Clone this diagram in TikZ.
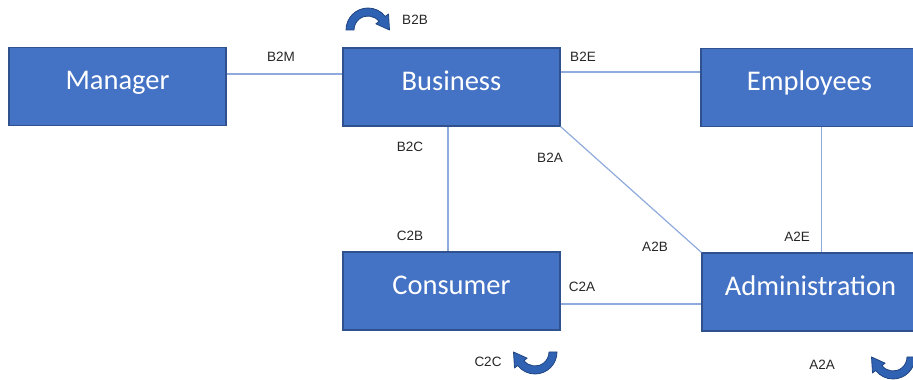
\documentclass[tikz,border=0pt]{standalone}
\usepackage{fontspec}
\usepackage{tikz}
\usepackage{xcolor}
\newfontfamily\boxfont{Carlito}
\newfontfamily\labfont{Liberation Sans}

\begin{document}
\begin{tikzpicture}[x=1pt,y=1pt]
% Define colours
\definecolor{boxblue}{RGB}{68,114,196}
\definecolor{boxedge}{RGB}{47,82,143}
\definecolor{linkblue}{RGB}{143,170,220}
\definecolor{loopfill}{RGB}{47,98,178}
\definecolor{loopedge}{RGB}{32,68,130}
\tikzset{
  role/.style={draw=boxedge,line width=1.2pt,fill=boxblue,minimum width=217pt,minimum height=78pt,
    inner sep=0pt,text height=18pt,text depth=11pt,text=white,font=\boxfont\fontsize{28.5}{31}\selectfont},
  link/.style={draw=linkblue,line width=1.2pt},
  tag/.style={font=\labfont\fontsize{13.5}{15}\selectfont,text=black!85,inner sep=0pt},
  loop/.style={fill=loopfill,draw=loopedge,line width=0.8pt,line join=round}
}
\useasboundingbox (0,0) rectangle (913,380);

% Draw role boxes
\node[role] (manager) at (117.5,293.5) {Manager};
\node[role] (business) at (451.5,293) {Business};
\node[role] (employees) at (809.5,292.5) {Employees};
\node[role] (consumer) at (451.5,89) {Consumer};
\node[role] (admin) at (810.5,88) {Administration};

% Draw links
\draw[link] ([yshift=12.5pt]manager.east) -- ([yshift=13pt]business.west);
\draw[link] ([yshift=15pt]business.east) -- ([yshift=15.5pt]employees.west);
\draw[link] ([xshift=-3.5pt]business.south) -- ([xshift=-3.5pt]consumer.north);
\draw[link] (business.south east) -- (admin.north west);
\draw[link] ([xshift=12pt]employees.south) -- ([xshift=11pt]admin.north);
\draw[link] ([yshift=-13pt]consumer.east) -- ([yshift=-12pt]admin.west);

% Add link labels
\node[tag] (b2m) at (281,323) {B2M};
\node[tag] (b2e) at (583,323) {B2E};
\node[tag] (b2c) at (410,233) {B2C};
\node[tag] (b2a) at (550,222) {B2A};
\node[tag] (c2b) at (410,144) {C2B};
\node[tag] (a2b) at (655,133) {A2B};
\node[tag] (a2e) at (797,143) {A2E};
\node[tag] (c2a) at (582,93) {C2A};

% Add self loops
\node[tag] (b2b) at (415,360) {B2B};
\begin{scope}[shift={(368,350)}]
\draw[loop] (180:22pt) arc[start angle=180,end angle=38,radius=22pt] -- (38:26pt)
  -- (21.5pt,0pt) -- (38:10pt) -- (38:14pt) arc[start angle=38,end angle=180,radius=14pt] -- cycle;
\end{scope}
\node[tag] (c2c) at (488,18) {C2C};
\begin{scope}[shift={(535,28)},rotate=180]
\draw[loop] (180:22pt) arc[start angle=180,end angle=38,radius=22pt] -- (38:26pt)
  -- (21.5pt,0pt) -- (38:10pt) -- (38:14pt) arc[start angle=38,end angle=180,radius=14pt] -- cycle;
\end{scope}
\node[tag] (a2a) at (822,15) {A2A};
\begin{scope}[shift={(893,23)},rotate=180]
\draw[loop] (180:22pt) arc[start angle=180,end angle=38,radius=22pt] -- (38:26pt)
  -- (21.5pt,0pt) -- (38:10pt) -- (38:14pt) arc[start angle=38,end angle=180,radius=14pt] -- cycle;
\end{scope}
\end{tikzpicture}
\end{document}
